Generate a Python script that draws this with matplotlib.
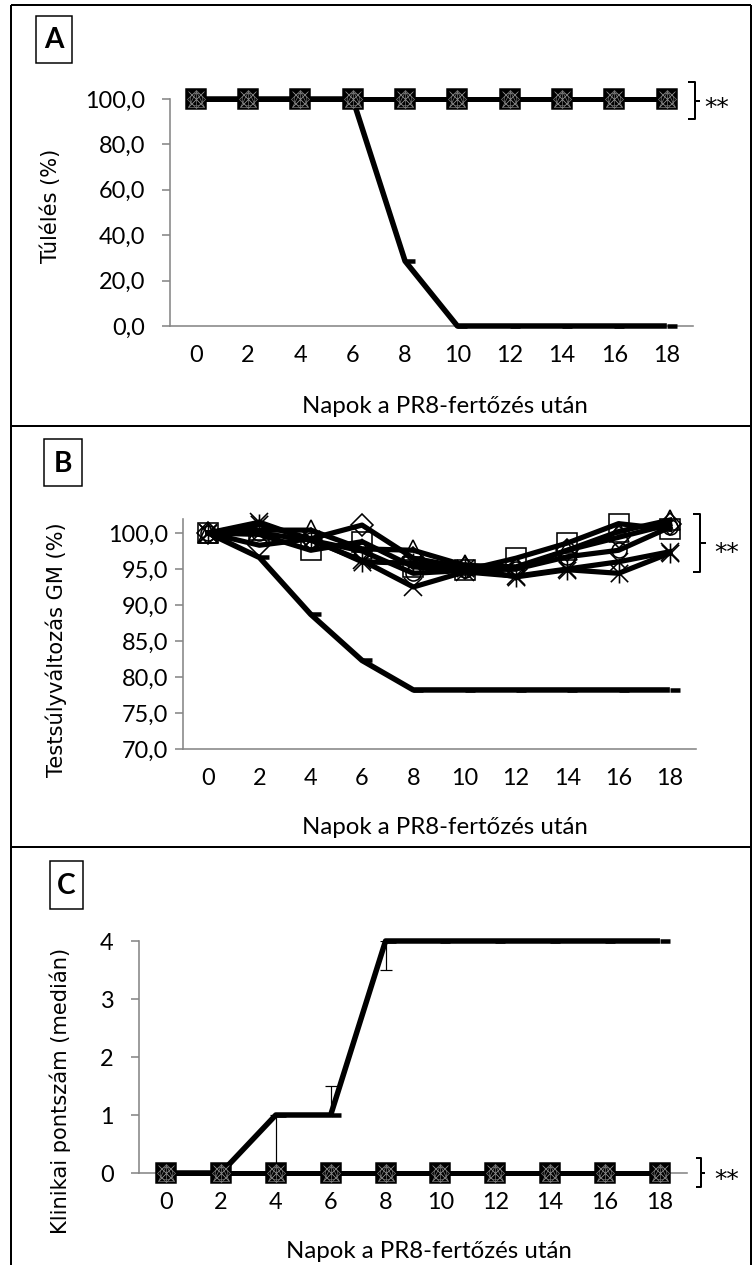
import matplotlib
matplotlib.use('Agg')
import matplotlib.pyplot as plt
from matplotlib.path import Path
from matplotlib.lines import Line2D
from matplotlib.patches import Rectangle

W, H = 755, 1265
plt.rcParams['font.family'] = ['Lato', 'DejaVu Sans']

# ---------------- data ----------------
days = [0, 2, 4, 6, 8, 10, 12, 14, 16, 18]
day_labels = ['0', '2', '4', '6', '8', '10', '12', '14', '16', '18']
xlabel_text = 'Napok a PR8-fertőzés után'

# Panel A: survival (%)
surv_pr8 = [100, 100, 100, 100, 28.6, 0, 0, 0, 0, 0]
surv_square = [100, 100, 100, 100, 100, 100, 100, 100, 100, 100]
surv_diamond = [100, 100, 100, 100, 100, 100, 100, 100, 100, 100]
surv_triangle = [100, 100, 100, 100, 100, 100, 100, 100, 100, 100]
surv_x = [100, 100, 100, 100, 100, 100, 100, 100, 100, 100]
surv_star = [100, 100, 100, 100, 100, 100, 100, 100, 100, 100]
surv_circle = [100, 100, 100, 100, 100, 100, 100, 100, 100, 100]
a_yticks = [0, 20, 40, 60, 80, 100]
a_yticklabels = ['0,0', '20,0', '40,0', '60,0', '80,0', '100,0']

# Panel B: body weight change (%)
wt_pr8 = [100, 96.6, 88.7, 82.3, 78.2, 78.2, 78.2, 78.2, 78.2, 78.2]
wt_square = [100, 99.8, 97.6, 98.8, 95.3, 94.8, 96.5, 98.6, 101.3, 100.5]
wt_diamond = [100, 98.3, 99.2, 101.1, 96.5, 95.2, 95.0, 97.6, 99.4, 101.2]
wt_triangle = [100, 100.4, 100.4, 97.8, 97.6, 95.5, 95.3, 97.6, 100.2, 101.8]
wt_x = [100, 101.5, 99.0, 96.2, 92.5, 94.6, 94.0, 95.0, 96.0, 97.4]
wt_star = [100, 101.2, 99.2, 96.0, 95.8, 95.2, 93.9, 94.9, 94.4, 97.2]
wt_circle = [100, 100.0, 99.0, 97.5, 94.4, 94.8, 95.0, 96.7, 97.6, 100.8]
b_yticks = [70, 75, 80, 85, 90, 95, 100]
b_yticklabels = ['70,0', '75,0', '80,0', '85,0', '90,0', '95,0', '100,0']

# Panel C: clinical score (median)
score_pr8 = [0, 0, 1, 1, 4, 4, 4, 4, 4, 4]
score_pr8_err_lo = [0, 0, 1, 0, 0.5, 0, 0, 0, 0, 0]
score_pr8_err_hi = [0, 0, 0, 0.5, 0, 0, 0, 0, 0, 0]
score_square = [0, 0, 0, 0, 0, 0, 0, 0, 0, 0]
score_diamond = [0, 0, 0, 0, 0, 0, 0, 0, 0, 0]
score_triangle = [0, 0, 0, 0, 0, 0, 0, 0, 0, 0]
score_x = [0, 0, 0, 0, 0, 0, 0, 0, 0, 0]
score_star = [0, 0, 0, 0, 0, 0, 0, 0, 0, 0]
score_circle = [0, 0, 0, 0, 0, 0, 0, 0, 0, 0]
c_yticks = [0, 1, 2, 3, 4]
c_yticklabels = ['0', '1', '2', '3', '4']

# ---------------- styling helpers ----------------
PT = 0.72  # points per pixel at dpi=100
GRAY = '#868686'
TICK_PX = 23.5

star_marker = Path([(-1, -1), (1, 1), (-1, 1), (1, -1), (0, -1.15), (0, 1.15)],
                   [Path.MOVETO, Path.LINETO, Path.MOVETO, Path.LINETO, Path.MOVETO, Path.LINETO])
dash_marker = Path([(0, 0), (1, 0)], [Path.MOVETO, Path.LINETO])

# drawing order: circle first so the other open markers sit on top
marker_specs = [('o', 15), ('D', 15), ('^', 20), ('x', 18), (star_marker, 20), ('s', 20)]

fig = plt.figure(figsize=(W / 100, H / 100), dpi=100)


def fx(x):
    return x / W


def fy(y):
    return 1 - y / H


def make_axes(x0, x1, y_top, y_bot):
    return fig.add_axes([fx(x0), fy(y_bot), fx(x1) - fx(x0), (y_bot - y_top) / H])


def style_axes(ax, yticks, yticklabels, ylim, ypad_px):
    ax.set_xlim(-1, 19)
    ax.set_ylim(*ylim)
    ax.set_xticks(days)
    ax.set_xticklabels(day_labels)
    ax.set_yticks(yticks)
    ax.set_yticklabels(yticklabels)
    for s in ['top', 'right']:
        ax.spines[s].set_visible(False)
    for s in ['left', 'bottom']:
        ax.spines[s].set_color(GRAY)
        ax.spines[s].set_linewidth(1.6 * PT)
    ax.tick_params(axis='x', length=0, pad=19 * PT, labelsize=TICK_PX * PT)
    ax.tick_params(axis='y', length=8 * PT, width=1.6 * PT, color=GRAY, direction='out',
                   pad=ypad_px * PT, labelsize=TICK_PX * PT)
    ax.patch.set_alpha(0)


def control_line(ax, y):
    ax.plot(days, y, color='black', lw=5.5 * PT, marker=dash_marker, ms=20 * PT,
            mew=4.5 * PT, mec='black', solid_joinstyle='round', solid_capstyle='butt',
            clip_on=False, zorder=3)


def flat_groups(ax, series):
    # groups overlapping at the same values -> dark patterned squares
    for y in series:
        ax.plot(days, y, color='black', lw=5 * PT, clip_on=False, zorder=4)
    ax.plot(days, series[-1], ls='none', marker='s', ms=20 * PT, mfc='black',
            mec='black', mew=1.5 * PT, clip_on=False, zorder=5)
    for y, (m, ms) in zip(series[:-1], marker_specs[:-1]):
        ax.plot(days, y, ls='none', marker=m, ms=ms * PT * 0.85, mfc='none',
                mec='#8a8a8a', mew=0.6 * PT, clip_on=False, zorder=6)


def open_groups(ax, series):
    for y, (m, ms) in zip(series, marker_specs):
        ax.plot(days, y, color='black', lw=5.2 * PT, marker=m, ms=ms * PT, mfc='none',
                mec='black', mew=1.6 * PT, solid_joinstyle='round', clip_on=False, zorder=4)


def panel_box(x0, x1, y0, y1, letter):
    fig.add_artist(Rectangle((fx(x0), fy(y1)), fx(x1) - fx(x0), (y1 - y0) / H,
                             transform=fig.transFigure, fill=False, ec='black', lw=1.5 * PT))
    fig.text(fx((x0 + x1) / 2), fy((y0 + y1) / 2 + 1), letter, ha='center', va='center',
             fontsize=28 * PT, fontweight='bold')


def fig_line(xs, ys, lw=2.0):
    fig.add_artist(Line2D([fx(v) for v in xs], [fy(v) for v in ys], transform=fig.transFigure,
                          color='black', lw=lw * PT, solid_capstyle='butt'))


def bracket(x_left, x_right, y_top, y_bot, y_mid, tick_end, star_x, star_y):
    fig_line([x_left, x_right, x_right, x_left], [y_top, y_top, y_bot, y_bot])
    fig_line([x_right, tick_end], [y_mid, y_mid])
    fig.text(fx(star_x), fy(star_y), '**', ha='left', va='center', fontsize=25 * PT,
             family=['DejaVu Sans'])


def ylabel(x, y, text):
    fig.text(fx(x), fy(y), text, rotation=90, ha='center', va='center',
             fontsize=21 * PT, family=['DejaVu Sans'])


def xlabel(x, y):
    fig.text(fx(x), fy(y), xlabel_text, ha='center', va='center', fontsize=24 * PT)


# ---------------- Panel A ----------------
axA = make_axes(169.5, 693, 99, 326)
style_axes(axA, a_yticks, a_yticklabels, (0, 100), 16)
control_line(axA, surv_pr8)
flat_groups(axA, [surv_circle, surv_diamond, surv_triangle, surv_x, surv_star, surv_square])
ylabel(50.5, 206, 'Túlélés (%)')
xlabel(445, 407)
panel_box(36, 72, 16, 63, 'A')
bracket(688, 694.5, 82, 119, 101, 700, 704, 108)

# ---------------- Panel B ----------------
axB = make_axes(182.5, 695.5, 518.6, 749)
style_axes(axB, b_yticks, b_yticklabels, (70, 102), 6)
control_line(axB, wt_pr8)
open_groups(axB, [wt_circle, wt_diamond, wt_triangle, wt_x, wt_star, wt_square])
ylabel(56.5, 650, 'Testsúlyváltozás GM (%)')
xlabel(445, 828)
panel_box(44, 82, 439, 486, 'B')
bracket(693, 700, 514, 572, 543, 706, 714, 553)

# ---------------- Panel C ----------------
axC = make_axes(138.6, 687.4, 941, 1173)
style_axes(axC, c_yticks, c_yticklabels, (0, 4), 17)
control_line(axC, score_pr8)
has_err = [lo > 0 or hi > 0 for lo, hi in zip(score_pr8_err_lo, score_pr8_err_hi)]
err_days = [d for d, k in zip(days, has_err) if k]
err_vals = [v for v, k in zip(score_pr8, has_err) if k]
err_lo = [v for v, k in zip(score_pr8_err_lo, has_err) if k]
err_hi = [v for v, k in zip(score_pr8_err_hi, has_err) if k]
axC.errorbar(err_days, err_vals, yerr=[err_lo, err_hi], fmt='none', ecolor='black',
             elinewidth=1.2 * PT, capsize=6 * PT, capthick=1.2 * PT, zorder=2)
flat_groups(axC, [score_circle, score_diamond, score_triangle, score_x, score_star, score_square])
ylabel(60, 1091, 'Klinikai pontszám (medián)')
xlabel(428.5, 1252)
panel_box(50, 83, 861, 909, 'C')
bracket(696, 700.5, 1158, 1187, 1173, 705, 714, 1180)

# ---------------- outer frame ----------------
fig_line([10.5, 10.5], [5, 1265])
fig_line([751, 751], [5, 1265])
fig_line([10.5, 751], [5, 5])
fig_line([10.5, 751], [425.5, 425.5])
fig_line([10.5, 751], [846.5, 846.5])

fig.savefig('out.png', dpi=100)
